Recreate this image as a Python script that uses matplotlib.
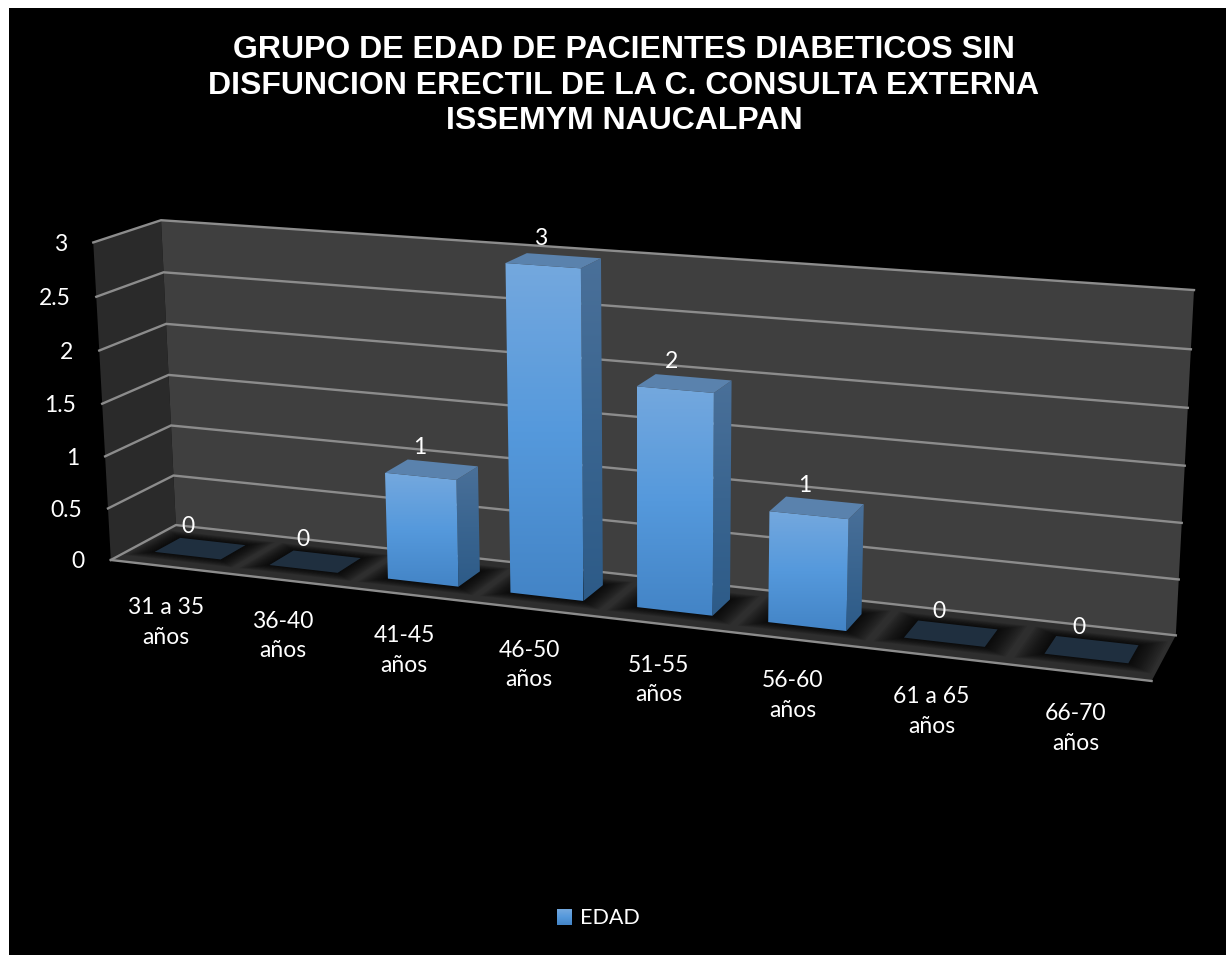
import numpy as np
import matplotlib
matplotlib.use('Agg')
import matplotlib.pyplot as plt
from matplotlib.patches import Polygon, Rectangle
from matplotlib.colors import LinearSegmentedColormap

categories = ['31 a 35\naños', '36-40\naños', '41-45\naños', '46-50\naños',
              '51-55\naños', '56-60\naños', '61 a 65\naños', '66-70\naños']
values = [0, 0, 1, 3, 2, 1, 0, 0]
value_ticks = [0, 0.5, 1, 1.5, 2, 2.5, 3]
tick_labels = ['0', '0.5', '1', '1.5', '2', '2.5', '3']
series_name = 'EDAD'
title = ('GRUPO DE EDAD DE PACIENTES DIABETICOS SIN\n'
         'DISFUNCION ERECTIL DE LA C. CONSULTA EXTERNA\n'
         'ISSEMYM NAUCALPAN')

W, H = 1226, 955
BAR_WIDTH = 0.58
Z_FRONT, Z_BACK = 0.3, 0.7
VMAX = 3.0

# box corners (x 0..1, value, depth 0..1) and where they land on the canvas
box_world = [(0, 0, 0), (0, 3, 0), (0, 0, 1), (0, 3, 1), (1, 0, 1), (1, 3, 1), (1, 0, 0)]
box_screen = [(110.7, 560), (93.3, 242.7), (176, 525), (161, 220),
              (1175.7, 635.7), (1194, 290), (1151.7, 680.7)]


def fit_camera(world, screen):
    rows = []
    for (x, y, z), (u, v) in zip(world, screen):
        rows.append([x, y, z, 1, 0, 0, 0, 0, -u*x, -u*y, -u*z, -u])
        rows.append([0, 0, 0, 0, x, y, z, 1, -v*x, -v*y, -v*z, -v])
    return np.linalg.svd(np.array(rows))[2][-1].reshape(3, 4)


CAM = fit_camera(box_world, box_screen)


def project(x, v, z):
    p = CAM @ np.array([x, v, z, 1.0])
    return p[0] / p[2], p[1] / p[2]


def fill_gradient(ax, pts, colors, zorder):
    # vertical gradient clipped to a polygon
    pts = np.array(pts)
    cmap = LinearSegmentedColormap.from_list('g', colors, N=512)
    grad = np.linspace(0, 1, 256).reshape(-1, 1)
    ext = (pts[:, 0].min(), pts[:, 0].max(), pts[:, 1].max(), pts[:, 1].min())
    im = ax.imshow(grad, cmap=cmap, extent=ext, aspect='auto', zorder=zorder, origin='upper',
                   interpolation='bilinear')
    poly = Polygon(pts, closed=True, transform=ax.transData, fc='none', ec='none')
    ax.add_patch(poly)
    im.set_clip_path(poly)


plt.rcParams['font.family'] = ['Lato', 'DejaVu Sans']
fig = plt.figure(figsize=(W / 100, H / 100), dpi=100, facecolor='white')
ax = fig.add_axes([0, 0, 1, 1])
ax.set_xlim(0, W)
ax.set_ylim(H, 0)
ax.axis('off')
ax.add_patch(Rectangle((9, 8), W - 9, H - 8, fc='black', ec='none', zorder=0))

# walls and floor
left_wall = [project(0, 0, 0), project(0, VMAX, 0), project(0, VMAX, 1), project(0, 0, 1)]
back_wall = [project(0, 0, 1), project(0, VMAX, 1), project(1, VMAX, 1), project(1, 0, 1)]
floor = [project(0, 0, 0), project(0, 0, 1), project(1, 0, 1), project(1, 0, 0)]
ax.add_patch(Polygon(left_wall, fc='#2a2a2a', ec='none', zorder=1))
ax.add_patch(Polygon(back_wall, fc='#3f3f3f', ec='none', zorder=1))
floor_patch = Polygon(floor, fc='#2e2e2e', ec='none', zorder=1)
ax.add_patch(floor_patch)

n = len(categories)
slot = 1.0 / n

# soft shadow round each bar footprint
for i in range(n):
    x0 = (i + 0.5 - BAR_WIDTH / 2) * slot
    x1 = (i + 0.5 + BAR_WIDTH / 2) * slot
    for m in np.linspace(0.03, 0.0, 14):
        mx = m * 0.75
        pts = [project(x0 - mx, 0, Z_FRONT - m * 5), project(x0 - mx, 0, Z_BACK + m * 5),
               project(x1 + mx, 0, Z_BACK + m * 5), project(x1 + mx, 0, Z_FRONT - m * 5)]
        p = Polygon(pts, fc='black', ec='none', alpha=0.08, zorder=1.5)
        ax.add_patch(p)
        p.set_clip_path(floor_patch)

# gridlines on both walls
for v in value_ticks:
    a, b, c = project(0, v, 0), project(0, v, 1), project(1, v, 1)
    ax.plot([a[0], b[0], c[0]], [a[1], b[1], c[1]], color='#8c8c8c', lw=1.7, zorder=2,
            solid_joinstyle='miter')
a, b = project(0, 0, 0), project(1, 0, 0)
ax.plot([a[0], b[0]], [a[1], b[1]], color='#8c8c8c', lw=1.7, zorder=2)

# bars, left to right
for i, val in enumerate(values):
    x0 = (i + 0.5 - BAR_WIDTH / 2) * slot
    x1 = (i + 0.5 + BAR_WIDTH / 2) * slot
    top = [project(x0, val, Z_FRONT), project(x0, val, Z_BACK),
           project(x1, val, Z_BACK), project(x1, val, Z_FRONT)]
    front = [project(x0, 0, Z_FRONT), project(x0, val, Z_FRONT),
             project(x1, val, Z_FRONT), project(x1, 0, Z_FRONT)]
    side = [project(x1, 0, Z_FRONT), project(x1, val, Z_FRONT),
            project(x1, val, Z_BACK), project(x1, 0, Z_BACK)]
    z = 3 + i * 0.1
    if val == 0:
        ax.add_patch(Polygon(top, fc='#1f2f3f', ec='none', zorder=z))
    else:
        fill_gradient(ax, side, ['#4a7099', '#3a6590', '#2d5b88'], z)
        fill_gradient(ax, front, ['#74a8de', '#5599dc', '#4384c6'], z + 0.01)
        ax.add_patch(Polygon(top, fc='#5a82ad', ec='none', zorder=z + 0.02))
    cx = np.mean([p[0] for p in top])
    cy = np.mean([p[1] for p in top])
    ax.text(cx - 12.5, cy - 22, str(val), color='white', fontsize=16.5, ha='center', va='center', zorder=6)

    # category label under the front edge
    fx, fy = project((i + 0.5) * slot, 0, 0)
    ax.text(fx - 2, fy + 56, categories[i], color='white', fontsize=16.5, ha='center', va='center',
            linespacing=1.5, zorder=6)

for v, lab in zip(value_ticks, tick_labels):
    tx, ty = project(0, v, 0)
    ax.text(tx - 26, ty + 2, lab, color='white', fontsize=16.5, ha='right', va='center', zorder=6)

ax.text(624, 85.5, title, color='white', fontsize=23, fontweight='bold', ha='center', va='center',
        family=['Liberation Sans', 'DejaVu Sans'], linespacing=1.25, zorder=6)

# legend key and name
fill_gradient(ax, [(557, 909), (572, 909), (572, 925), (557, 925)], ['#74a8de', '#5599dc', '#4384c6'], 6)
ax.text(580, 918, series_name, color='white', fontsize=15.5, ha='left', va='center', zorder=6)

ax.set_xlim(0, W)
ax.set_ylim(H, 0)
fig.savefig('out.png', dpi=100, facecolor='white')
